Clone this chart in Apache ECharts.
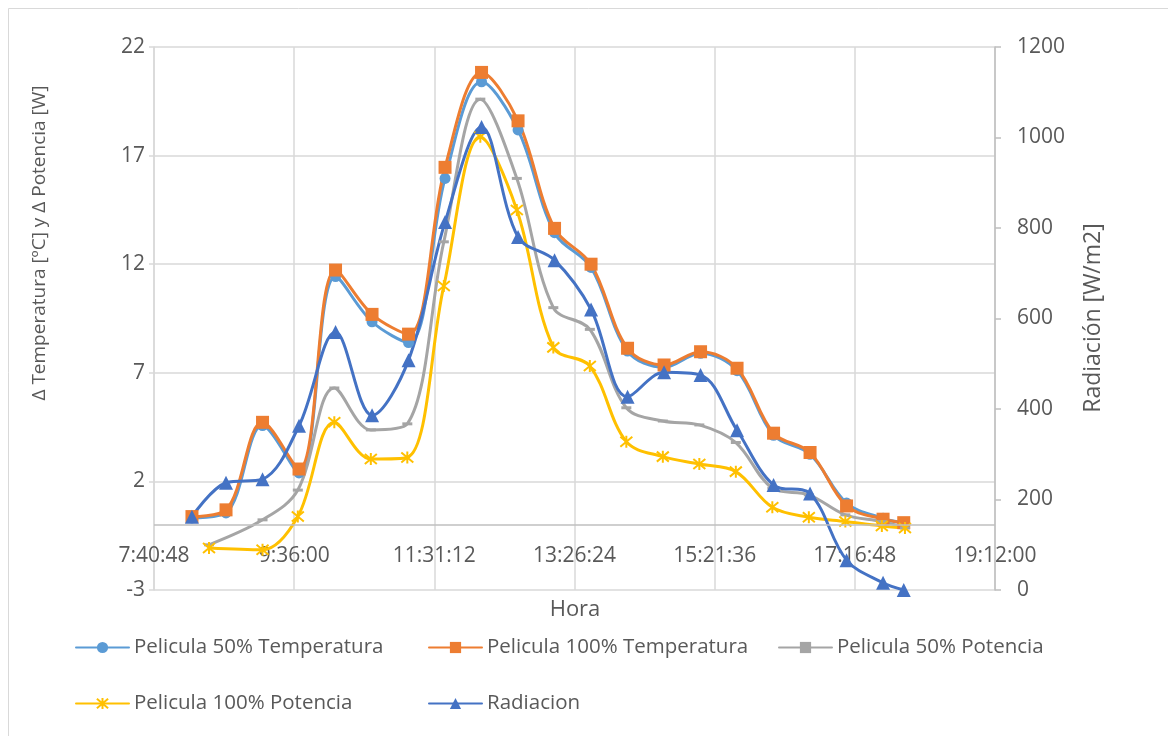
<!DOCTYPE html>
<html>
<head>
<meta charset="utf-8">
<script src="https://cdn.jsdelivr.net/npm/echarts@6/dist/echarts.min.js"></script>
<style>
  html, body { margin: 0; padding: 0; background: #ffffff; }
  #chart { width: 1168px; height: 736px; }
</style>
</head>
<body>
<div id="chart"></div>
<script>
// Measurement times (h:mm) for the temperature and radiation readings
const tempTimes = ['8:12','8:40','9:10','9:40','10:10','10:40','11:10','11:40','12:10','12:40',
                   '13:10','13:40','14:10','14:40','15:10','15:40','16:10','16:40','17:10','17:40','17:57'];
// Measurement times for the power readings
const potTimes = ['8:26','9:10','9:39','10:09','10:39','11:09','11:39','12:09','12:39','13:09',
                  '13:39','14:09','14:39','15:09','15:39','16:09','16:39','17:09','17:39','17:58'];

// Δ temperature [ºC]
const pel50Temp  = [0.32, 0.55, 4.57, 2.39, 11.43, 9.35, 8.39, 15.95, 20.4, 18.18,
                    13.45, 11.85, 8.0, 7.25, 7.9, 7.1, 4.12, 3.25, 1.0, 0.3, 0.1];
const pel100Temp = [0.38, 0.69, 4.72, 2.57, 11.73, 9.69, 8.78, 16.46, 20.83, 18.6,
                    13.65, 12.0, 8.13, 7.36, 7.97, 7.21, 4.22, 3.33, 0.87, 0.26, 0.1];
// Δ power [W]
const pel50Pot   = [-0.92, 0.23, 1.6, 6.3, 4.37, 4.65, 13.03, 19.6, 15.95, 10.0,
                    9.0, 5.39, 4.78, 4.6, 3.79, 1.69, 1.38, 0.46, 0.15, -0.14];
const pel100Pot  = [-1.07, -1.15, 0.38, 4.72, 3.03, 3.1, 11.0, 17.87, 14.5, 8.17,
                    7.31, 3.83, 3.14, 2.8, 2.45, 0.81, 0.35, 0.15, -0.05, -0.15];
// Solar radiation [W/m2]
const radiacion  = [162, 237, 245, 363, 570, 386, 508, 813, 1023, 780,
                    729, 620, 427, 481, 475, 353, 232, 213, 66, 16, 0];

// Axis ranges (seconds since midnight on the time axis)
const xMin = 27648, xMax = 69120, xStep = 6912;   // 7:40:48 … 19:12:00
const yLeftMin = -3, yLeftMax = 22, yLeftStep = 5;
const yRightMin = 0, yRightMax = 1200, yRightStep = 200;

const toSec = t => { const [h, m] = t.split(':').map(Number); return h * 3600 + m * 60; };
const pad = n => (n < 10 ? '0' : '') + n;
const fmtTime = s => {
  s = Math.round(s);
  return Math.floor(s / 3600) + ':' + pad(Math.floor((s % 3600) / 60)) + ':' + pad(s % 60);
};
const pairs = (times, vals) => vals.map((v, i) => [toSec(times[i]), v]);

const FONT = "'Open Sans', 'Noto Sans', sans-serif";
const TXT = '#595959';
const GRID = '#d9d9d9';
const AXIS = '#bfbfbf';

const asterisk = 'path://M0,0L10,10M10,0L0,10M5,-1L5,11';

function lineSeries(name, data, color, symbol, size, extra) {
  return Object.assign({
    name: name,
    type: 'line',
    data: data,
    smooth: 0.35,
    symbol: symbol,
    symbolSize: size,
    showAllSymbol: true,
    lineStyle: { color: color, width: 3, join: 'round', cap: 'round' },
    itemStyle: { color: color },
    emphasis: { disabled: true },
    animation: false
  }, extra || {});
}

const series = [
  lineSeries('Pelicula 50% Temperatura', pairs(tempTimes, pel50Temp), '#5B9BD5', 'circle', 11, {
    // horizontal category axis line drawn where Δ = 0
    markLine: {
      silent: true, symbol: 'none', animation: false,
      label: { show: false },
      lineStyle: { color: AXIS, width: 1.5, type: 'solid' },
      emphasis: { disabled: true },
      data: [{ yAxis: 0 }]
    }
  }),
  lineSeries('Pelicula 100% Temperatura', pairs(tempTimes, pel100Temp), '#ED7D31', 'rect', 13),
  lineSeries('Pelicula 50% Potencia', pairs(potTimes, pel50Pot), '#A5A5A5', 'rect', [10, 3]),
  lineSeries('Pelicula 100% Potencia', pairs(potTimes, pel100Pot), '#FFC000', asterisk, 12,
             { itemStyle: { color: '#FFC000', borderColor: '#FFC000', borderWidth: 2 } }),
  lineSeries('Radiacion', pairs(tempTimes, radiacion), '#4472C4', 'triangle', 14, { yAxisIndex: 1 })
];

// One legend block per entry so the entries sit on a fixed two-row grid
const legendSlots = [
  ['Pelicula 50% Temperatura', 75, 637],
  ['Pelicula 100% Temperatura', 428, 637],
  ['Pelicula 50% Potencia', 778, 637],
  ['Pelicula 100% Potencia', 75, 693],
  ['Radiacion', 428, 693]
];
const legends = legendSlots.map(([name, left, top]) => ({
  data: [name],
  left: left,
  top: top,
  padding: 0,
  itemWidth: 53,
  itemHeight: 14,
  itemGap: 0,
  selectedMode: false,
  textStyle: { color: TXT, fontSize: 20.5, fontFamily: FONT }
}));

const chart = echarts.init(document.getElementById('chart'), null, { renderer: 'canvas' });
chart.setOption({
  backgroundColor: '#ffffff',
  animation: false,
  textStyle: { fontFamily: FONT },
  grid: { left: 154, right: 173, top: 47, bottom: 146, containLabel: false },
  legend: legends,
  xAxis: {
    type: 'value',
    position: 'bottom',
    min: xMin, max: xMax, interval: xStep,
    axisLine: { show: false, onZero: false },
    axisTick: { show: false },
    // time labels sit just under the Δ = 0 line
    axisLabel: { color: TXT, fontSize: 21, fontFamily: FONT, margin: -44, formatter: fmtTime,
                 showMinLabel: true, showMaxLabel: true },
    splitLine: { show: true, lineStyle: { color: GRID, width: 1.5 } }
  },
  yAxis: [
    {
      type: 'value',
      position: 'left',
      min: yLeftMin, max: yLeftMax, interval: yLeftStep,
      axisLine: { show: true, lineStyle: { color: GRID, width: 1.5 } },
      axisTick: { show: true, length: 5, lineStyle: { color: GRID, width: 1.5 } },
      axisLabel: { color: TXT, fontSize: 21, fontFamily: FONT, margin: 9 },
      splitLine: { show: true, lineStyle: { color: GRID, width: 1.5 } }
    },
    {
      type: 'value',
      position: 'right',
      min: yRightMin, max: yRightMax, interval: yRightStep,
      axisLine: { show: true, lineStyle: { color: AXIS, width: 1.5 } },
      axisTick: { show: true, length: 6, lineStyle: { color: AXIS, width: 1.5 } },
      axisLabel: { color: TXT, fontSize: 21, fontFamily: FONT, margin: 22,
                   formatter: v => String(v) },
      splitLine: { show: false }
    }
  ],
  graphic: [
    { type: 'rect', silent: true, z: -10,
      shape: { x: 8.5, y: 8.5, width: 1200, height: 800 },
      style: { fill: 'none', stroke: '#d9d9d9', lineWidth: 1 } },
    { type: 'text', silent: true, x: 40, y: 243, rotation: Math.PI / 2,
      style: { text: 'Δ Temperatura [ºC] y Δ Potencia [W]', fill: TXT, font: '19px ' + FONT,
               align: 'center', verticalAlign: 'middle' } },
    { type: 'text', silent: true, x: 1093, y: 318, rotation: Math.PI / 2,
      style: { text: 'Radiación [W/m2]', fill: TXT, font: '23px ' + FONT,
               align: 'center', verticalAlign: 'middle' } },
    { type: 'text', silent: true, x: 575, y: 610,
      style: { text: 'Hora', fill: TXT, font: '22px ' + FONT,
               align: 'center', verticalAlign: 'middle' } }
  ],
  series: series
});
</script>
</body>
</html>
